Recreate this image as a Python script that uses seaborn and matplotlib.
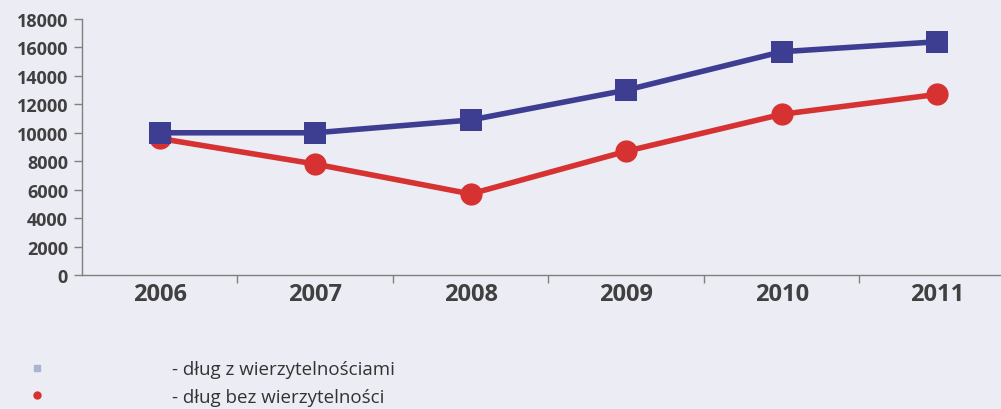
import pandas as pd
import matplotlib.pyplot as plt
import seaborn as sns
from matplotlib.lines import Line2D

# values
years = ['2006', '2007', '2008', '2009', '2010', '2011']
debt_with_claims = [10000, 10000, 10900, 13000, 15700, 16400]
debt_without_claims = [9600, 7800, 5700, 8700, 11300, 12700]
series_names = ['- dług z wierzytelnościami', '- dług bez wierzytelności']
y_ticks = [0, 2000, 4000, 6000, 8000, 10000, 12000, 14000, 16000, 18000]

df = pd.DataFrame({
    'year': years * 2,
    'value': debt_with_claims + debt_without_claims,
    'series': [series_names[0]] * len(years) + [series_names[1]] * len(years),
})
df['pos'] = df['year'].map({y: i for i, y in enumerate(years)})

bg = '#ECECF4'
blue = '#3D3D92'
red = '#D63232'
txt = '#404040'

sns.set_theme(style='white')
plt.rcParams['font.family'] = ['Open Sans', 'DejaVu Sans']

fig = plt.figure(figsize=(10.01, 4.10), dpi=100, facecolor=bg)
ax = fig.add_axes([82 / 1001, 134 / 410, 919 / 1001, 256 / 410])
ax.set_facecolor(bg)

sns.lineplot(data=df, x='pos', y='value', hue='series', style='series',
             palette=[blue, red], markers=['s', 'o'], dashes=False,
             linewidth=4, markersize=16, markeredgewidth=0,
             legend=False, ax=ax)
# blue series sits on top of the red one
ax.lines[0].set_zorder(3)
ax.lines[1].set_zorder(2)

ax.set_xlim(-0.5, 5.41)
ax.set_ylim(0, 18000)
ax.set_yticks(y_ticks)
ax.set_yticklabels([str(v) for v in y_ticks], fontsize=13, fontweight='bold', color=txt)
ax.set_xticks(range(len(years)))
ax.set_xticklabels(years, fontsize=17, fontweight='bold', color=txt)
ax.set_xticks([i + 0.5 for i in range(len(years) - 1)], minor=True)
ax.tick_params(axis='x', which='major', length=0, pad=5)
ax.tick_params(axis='x', which='minor', bottom=True, length=6, width=1,
               color='#808080', direction='out')
ax.tick_params(axis='y', left=True, length=6, width=1, color='#808080',
               direction='out', pad=4)
ax.set_xlabel('')
ax.set_ylabel('')
for s in ['top', 'right']:
    ax.spines[s].set_visible(False)
for s in ['left', 'bottom']:
    ax.spines[s].set_color('#808080')
    ax.spines[s].set_linewidth(1)

handles = [
    Line2D([], [], linestyle='none', marker='s', markersize=4, color='#A8B4D0'),
    Line2D([], [], linestyle='none', marker='o', markersize=5, color=red),
]
fig.legend(handles, series_names, loc='lower left', bbox_to_anchor=(0.011, -0.033),
           frameon=False, fontsize=13.5, handlelength=1, handletextpad=6.7,
           labelspacing=0.5, labelcolor='#333333')

fig.savefig('out.png', dpi=100, facecolor=bg)
